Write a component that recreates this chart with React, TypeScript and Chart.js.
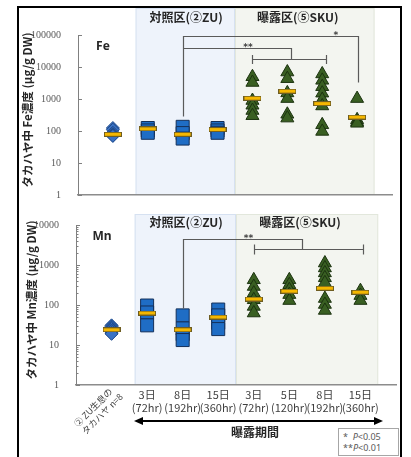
import React, { useEffect, useRef } from 'react';
import { Chart, registerables } from 'chart.js';
Chart.register(...registerables);

// ---------- data ----------
const categoryX = [1, 2, 3, 4, 5, 6, 7, 8];
const dayLabels = ['', '3日', '8日', '15日', '3日', '5日', '8日', '15日'];
const hourLabels = ['', '(72hr)', '(192hr)', '(360hr)', '(72hr)', '(120hr)', '(192hr)', '(360hr)'];
const referenceLabel = ['② ZU生息の', 'タカハヤ n=8'];
const feTicks = [1, 10, 100, 1000, 10000, 100000];
const mnTicks = [1, 10, 100, 1000, 10000];

const feReference = [124, 110, 88, 80, 76, 74, 72, 70];
const feControl3d = [124, 104, 88];
const feControl8d = [135, 86, 58];
const feControl15d = [124, 104, 88];
const feExposed3d = [4950, 3280, 897, 637, 437, 300];
const feExposed5d = [6960, 4310, 1550, 1030, 333, 253];
const feExposed8d = [6070, 3830, 2420, 1520, 960, 605, 156, 97];
const feExposed15d = [1030, 224, 193, 174];
const feMeans = [79, 117, 79, 111, 1060, 1760, 720, 272];

const mnReference = [31, 29, 27, 25, 23, 22, 20, 19];
const mnControl3d = [97, 65, 31];
const mnControl8d = [55, 26, 18.7, 13.3];
const mnControl15d = [77, 55, 36, 25];
const mnExposed3d = [426, 290, 198, 135, 92, 63];
const mnExposed5d = [426, 321, 241, 182, 129];
const mnExposed8d = [1120, 843, 634, 478, 359, 145, 103, 73];
const mnExposed15d = [228, 172, 129];
const mnMeans = [24, 63, 24, 50, 141, 222, 263, 209];

const zoneNames = ['対照区(②ZU)', '曝露区(⑤SKU)'];
const zoneFrom = [1.65, 4.5];
const zoneTo = [4.5, 8.5];
const zoneLabelX = [3.1, 6.3];

// significance links (x in category units, y in data units)
const fePaths = [
  [[3, 290], [3, 90200], [8.02, 90200], [8.02, 3400]],
  [[3, 39800], [6.1, 39800], [6.1, 17500]],
  [[5, 17500], [7.1, 17500]],
];
const feCaps = [[5, 17500], [7.1, 17500]];
const feStars = [
  { x: 7.39, y: 90200, text: '*' },
  { x: 4.87, y: 39800, text: '**' },
];
const mnPaths = [
  [[3, 84], [3, 4510], [6.37, 4510], [6.37, 2550]],
  [[5, 2550], [8.08, 2550]],
];
const mnCaps = [[5, 2550], [8.08, 2550]];
const mnStars = [{ x: 4.85, y: 4510, text: '**' }];

// ---------- helpers ----------
const toPoints = (x: number, vals: number[]) => vals.map((v) => ({ x, y: v }));

function makeMeanBar() {
  const c = document.createElement('canvas');
  c.width = 18;
  c.height = 5;
  const g = c.getContext('2d')!;
  g.fillStyle = '#6e5d22';
  g.fillRect(0, 0, 18, 5);
  g.fillStyle = '#f5b700';
  g.fillRect(1, 1, 16, 3);
  return c;
}

function buildDatasets(ref: number[], control: number[][], exposed: number[][], means: number[], bar: HTMLCanvasElement) {
  return [
    {
      label: 'mean',
      data: means.map((v, i) => ({ x: categoryX[i], y: v })),
      pointStyle: bar,
      pointRadius: 9,
      order: 0,
    },
    {
      label: 'ref',
      data: toPoints(categoryX[0], ref),
      pointStyle: 'rectRot',
      pointRadius: 6.5,
      backgroundColor: '#3a72c4',
      borderColor: '#1f4a8a',
      borderWidth: 1,
      order: 1,
    },
    {
      label: 'control',
      data: control.flatMap((vals, i) => toPoints(categoryX[1 + i], vals)),
      pointStyle: 'rect',
      pointRadius: 9.2,
      backgroundColor: '#1f6dc5',
      borderColor: '#14305a',
      borderWidth: 1,
      order: 1,
    },
    {
      label: 'exposed',
      data: exposed.flatMap((vals, i) => toPoints(categoryX[4 + i], vals)),
      pointStyle: 'triangle',
      pointRadius: 7.5,
      backgroundColor: '#395f22',
      borderColor: '#1c3310',
      borderWidth: 1,
      order: 1,
    },
  ];
}

type Spec = {
  shadeAbove: number;
  labelOffset: number;
  minor: boolean;
  paths: number[][][];
  caps: number[][];
  stars: { x: number; y: number; text: string }[];
  capHalf: number;
  xLabels: boolean;
};

function makeOverlay(spec: Spec) {
  return {
    id: 'overlay',
    beforeDraw(chart: any) {
      const { ctx, chartArea, scales } = chart;
      const x = scales.x;
      const top = chartArea.top - spec.shadeAbove;
      const fills = ['#eef3fb', '#f3f5f0'];
      const edges = ['#d6e1f1', '#e2e7dc'];
      zoneFrom.forEach((f, i) => {
        const x0 = x.getPixelForValue(f);
        const x1 = x.getPixelForValue(zoneTo[i]);
        ctx.save();
        ctx.fillStyle = fills[i];
        ctx.fillRect(x0, top, x1 - x0, chartArea.bottom - top);
        ctx.strokeStyle = edges[i];
        ctx.lineWidth = 1;
        ctx.strokeRect(x0 + 0.5, top + 0.5, x1 - x0 - 1, chartArea.bottom - top - 1);
        ctx.restore();
      });
    },
    afterDatasetsDraw(chart: any) {
      const { ctx, scales } = chart;
      const x = scales.x;
      const y = scales.y;
      ctx.save();
      ctx.strokeStyle = '#5a5a5a';
      ctx.lineWidth = 1.2;
      spec.paths.forEach((path) => {
        ctx.beginPath();
        path.forEach(([vx, vy], i) => {
          const px = Math.round(x.getPixelForValue(vx)) + 0.5;
          const py = Math.round(y.getPixelForValue(vy)) + 0.5;
          if (i) ctx.lineTo(px, py);
          else ctx.moveTo(px, py);
        });
        ctx.stroke();
      });
      spec.caps.forEach(([vx, vy]) => {
        const px = Math.round(x.getPixelForValue(vx)) + 0.5;
        const py = Math.round(y.getPixelForValue(vy)) + 0.5;
        ctx.beginPath();
        ctx.moveTo(px, py - spec.capHalf);
        ctx.lineTo(px, py + spec.capHalf);
        ctx.stroke();
      });
      ctx.fillStyle = '#404040';
      ctx.font = 'bold 9px "DejaVu Sans"';
      ctx.textAlign = 'center';
      ctx.textBaseline = 'alphabetic';
      spec.stars.forEach((s) => {
        ctx.fillText(s.text, x.getPixelForValue(s.x), y.getPixelForValue(s.y) + 2);
      });
      ctx.restore();
    },
    afterDraw(chart: any) {
      const { ctx, chartArea, scales } = chart;
      const x = scales.x;
      const y = scales.y;
      ctx.save();
      // inside tick marks
      ctx.strokeStyle = '#808080';
      ctx.lineWidth = 1;
      const left = chartArea.left;
      y.ticks.forEach((t: any) => {
        const py = Math.round(y.getPixelForValue(t.value)) + 0.5;
        ctx.beginPath();
        ctx.moveTo(left, py);
        ctx.lineTo(left + 4, py);
        ctx.stroke();
        if (spec.minor && t.value < y.max) {
          for (let k = 2; k <= 9; k++) {
            const my = Math.round(y.getPixelForValue(t.value * k)) + 0.5;
            ctx.beginPath();
            ctx.moveTo(left, my);
            ctx.lineTo(left + 2.5, my);
            ctx.stroke();
          }
        }
      });
      // zone labels
      ctx.fillStyle = '#262626';
      ctx.font = 'bold 12px "Noto Sans CJK JP"';
      ctx.textAlign = 'center';
      ctx.textBaseline = 'middle';
      zoneNames.forEach((n, i) => {
        ctx.fillText(n, x.getPixelForValue(zoneLabelX[i]), chartArea.top - spec.shadeAbove + spec.labelOffset);
      });
      if (spec.xLabels) {
        ctx.fillStyle = '#404040';
        ctx.font = '11px "Noto Sans CJK JP"';
        for (let i = 1; i < categoryX.length; i++) {
          const px = x.getPixelForValue(categoryX[i]);
          ctx.fillText(dayLabels[i], px, chartArea.bottom + 10);
          ctx.fillText(hourLabels[i], px, chartArea.bottom + 23);
        }
        ctx.save();
        ctx.font = '9px "Noto Sans CJK JP"';
        ctx.textAlign = 'left';
        ctx.translate(x.getPixelForValue(categoryX[0]) - 36, chartArea.bottom + 40);
        ctx.rotate(-Math.PI / 4);
        ctx.fillText(referenceLabel[0], 0, 0);
        ctx.fillText(referenceLabel[1], 0, 11);
        ctx.restore();
      }
      ctx.restore();
    },
  };
}

function makeConfig(datasets: any[], ticks: number[], padding: any, spec: Spec) {
  return {
    type: 'scatter' as const,
    data: { datasets },
    options: {
      animation: false as const,
      responsive: false,
      devicePixelRatio: 1,
      layout: { padding },
      plugins: { legend: { display: false }, tooltip: { enabled: false } },
      events: [],
      scales: {
        x: {
          type: 'linear' as const,
          min: 0,
          max: 9,
          ticks: { display: false },
          grid: { display: false },
          border: { display: true, color: '#8c8c8c', width: 1.5 },
          afterFit: (s: any) => {
            s.height = 0;
          },
        },
        y: {
          type: 'logarithmic' as const,
          min: ticks[0],
          max: ticks[ticks.length - 1],
          afterBuildTicks: (s: any) => {
            s.ticks = ticks.map((v) => ({ value: v }));
          },
          afterFit: (s: any) => {
            s.width = 60;
          },
          ticks: {
            callback: (v: any) => String(v),
            font: { family: 'Liberation Serif', size: 10 },
            color: '#595959',
            padding: 9,
          },
          grid: { display: false },
          border: { display: true, color: '#808080', width: 1 },
        },
      },
    },
    plugins: [makeOverlay(spec)],
  };
}

export default function App() {
  const topRef = useRef<HTMLCanvasElement>(null);
  const botRef = useRef<HTMLCanvasElement>(null);

  useEffect(() => {
    const bar = makeMeanBar();
    const feChart = new Chart(
      topRef.current!,
      makeConfig(
        buildDatasets(feReference, [feControl3d, feControl8d, feControl15d], [feExposed3d, feExposed5d, feExposed8d, feExposed15d], feMeans, bar),
        feTicks,
        { left: 18, right: 19, top: 35, bottom: 6 },
        { shadeAbove: 27, labelOffset: 9, minor: false, paths: fePaths, caps: feCaps, stars: feStars, capHalf: 4.5, xLabels: false }
      ) as any
    );
    const mnChart = new Chart(
      botRef.current!,
      makeConfig(
        buildDatasets(mnReference, [mnControl3d, mnControl8d, mnControl15d], [mnExposed3d, mnExposed5d, mnExposed8d, mnExposed15d], mnMeans, bar),
        mnTicks,
        { left: 16, right: 15, top: 13, bottom: 72 },
        { shadeAbove: 11, labelOffset: 8, minor: true, paths: mnPaths, caps: mnCaps, stars: mnStars, capHalf: 5, xLabels: true }
      ) as any
    );
    return () => {
      feChart.destroy();
      mnChart.destroy();
    };
  }, []);

  const abs = (x: number, y: number, extra: React.CSSProperties = {}): React.CSSProperties => ({
    position: 'absolute',
    left: x,
    top: y,
    transform: 'translate(-50%, -50%)',
    whiteSpace: 'nowrap',
    lineHeight: 1,
    ...extra,
  });
  const yTitle: React.CSSProperties = {
    fontFamily: '"Noto Sans CJK JP"',
    fontWeight: 'bold',
    fontSize: 11.5,
    color: '#262626',
  };

  return (
    <div style={{ position: 'absolute', left: 0, top: 0, width: 411, height: 457, overflow: 'hidden', background: '#fff' }}>
      <div style={{ position: 'absolute', left: 17, top: 6, width: 385, height: 470, border: '2px solid #000', boxSizing: 'border-box' }} />
      <canvas ref={topRef} width={411} height={210} style={{ position: 'absolute', left: 0, top: 0 }} />
      <canvas ref={botRef} width={411} height={247} style={{ position: 'absolute', left: 0, top: 210 }} />
      <div style={abs(28, 110, { ...yTitle, transform: 'translate(-50%, -50%) rotate(-90deg)' })}>タカハヤ中 Fe濃度 (μg/g DW)</div>
      <div style={abs(32, 300, { ...yTitle, transform: 'translate(-50%, -50%) rotate(-90deg)' })}>タカハヤ中 Mn濃度 (μg/g DW)</div>
      <div style={abs(103, 46, { fontFamily: '"Noto Sans"', fontWeight: 'bold', fontSize: 12, color: '#262626' })}>Fe</div>
      <div style={abs(102, 236, { fontFamily: '"Noto Sans"', fontWeight: 'bold', fontSize: 12, color: '#262626' })}>Mn</div>
      <svg width={411} height={457} style={{ position: 'absolute', left: 0, top: 0 }}>
        <line x1={141} y1={421} x2={376} y2={421} stroke="#000" strokeWidth={2} />
        <polygon points="134,421 143,417 143,425" fill="#000" />
        <polygon points="383,421 374,417 374,425" fill="#000" />
      </svg>
      <div style={abs(255, 432, { fontFamily: '"Noto Sans CJK JP"', fontWeight: 'bold', fontSize: 12, color: '#262626' })}>曝露期間</div>
      <div
        style={{
          position: 'absolute',
          left: 338,
          top: 428,
          width: 61,
          height: 28,
          border: '1px solid #a6a6a6',
          boxSizing: 'border-box',
          fontFamily: '"Noto Sans"',
          fontSize: 9,
          color: '#595959',
          lineHeight: '11px',
          padding: '2px 0 0 4px',
          whiteSpace: 'nowrap',
          background: '#fff',
        }}
      >
        <div>
          *&nbsp;&nbsp;<i>P</i>&lt;0.05
        </div>
        <div>
          **<i>P</i>&lt;0.01
        </div>
      </div>
    </div>
  );
}
